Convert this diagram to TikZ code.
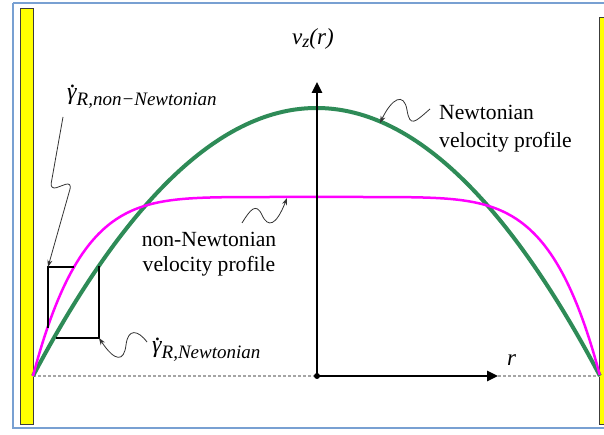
\documentclass[tikz,border=0pt]{standalone}
\usepackage{fontspec}
\setmainfont{LiberationSerif-Regular.ttf}[ItalicFont=LiberationSerif-Italic.ttf,BoldFont=LiberationSerif-Bold.ttf,BoldItalicFont=LiberationSerif-BoldItalic.ttf]
\usetikzlibrary{arrows.meta}
\definecolor{frameblue}{RGB}{120,160,210}
\definecolor{newtgreen}{RGB}{46,139,87}
\definecolor{nnmagenta}{RGB}{255,0,255}
\definecolor{wallyellow}{RGB}{255,255,0}
\definecolor{wallborder}{RGB}{60,60,60}
\definecolor{basegray}{RGB}{165,165,165}
\newcommand{\gdotted}{\makebox[0pt][l]{\kern0.12em\raisebox{0.5em}{.}}γ}
\tikzset{
  wall/.style={fill=wallyellow,draw=wallborder,line width=1pt},
  axis/.style={line width=2.5pt,-{Triangle[length=11pt,width=10pt]}},
  wiggle/.style={line width=0.8pt,draw=black!80,-{Stealth[length=7pt,width=5pt]}},
  boxline/.style={line width=2pt,black},
  lbl/.style={inner sep=0pt,anchor=base west,font=\fontsize{21.6}{26}\selectfont},
}
\begin{document}
\begin{tikzpicture}[x=1pt,y=-1pt]
\useasboundingbox (0,0) rectangle (604,435);
\fill[white] (0,0) rectangle (604,435);
% frame
\draw[frameblue,line width=1.5pt] (13,3) -- (612,3) (13,3) -- (13,428) -- (612,428);
% walls
\draw[wall] (20,9) rectangle (33,424);
\draw[wall] (599,18) rectangle (614,424);
% baseline
\draw[basegray,line width=1.2pt,dash pattern=on 3pt off 2pt] (33,376) -- (600,376);
% profiles
\draw[newtgreen,line width=4pt] plot[domain=-1:1,samples=121,smooth] ({316.5+283.5*\x},{376-268*(1-\x*\x)});
\draw[nnmagenta,line width=2.5pt] plot[domain=-1:1,samples=201,smooth] ({316.5+283.5*\x},{376-179*(1-\x*\x*\x*\x*\x*\x)});
% axes
\coordinate (O) at (317,376);
\coordinate (vtop) at (317,82);
\coordinate (rend) at (498,376);
\draw[axis] (O) -- (vtop);
\draw[axis] (O) -- (rend);
\fill (O) circle (3pt);
\node[lbl,font=\fontsize{23}{26}\selectfont\itshape] (vlab) at (292,45) {v\raisebox{-3pt}{\fontsize{18}{20}\selectfont z}(r)};
\node[lbl,font=\fontsize{23}{26}\selectfont\itshape] (rlab) at (507,365) {r};
% tangent boxes
\coordinate (boxTL) at (48,267);
\coordinate (boxBR) at (99,338);
\draw[boxline] (48,328) -- (boxTL) -- (74,267);
\draw[boxline] (56,338) -- (boxBR) -- (99,266);
% labels
\node[lbl] (nt1) at (439,120) {Newtonian};
\node[lbl] (nt2) at (439,148) {velocity profile};
\node[lbl,anchor=base] (nn1) at (209,247) {non-Newtonian};
\node[lbl,anchor=base] (nn2) at (209,272) {velocity profile};
\node[lbl] (g1) at (67,100) {{\fontsize{24}{26}\selectfont\itshape \gdotted}\raisebox{-6pt}{\fontsize{19}{22}\selectfont\itshape R,non−Newtonian}};
\node[lbl] (g2) at (152,352) {{\fontsize{24}{26}\selectfont\itshape \gdotted}\raisebox{-6pt}{\fontsize{19}{22}\selectfont\itshape R,Newtonian}};
% wiggly arrows
\coordinate (w1s) at (63,117);
\draw[wiggle,rounded corners=7pt] (w1s) -- (50,190) -- (72,182) -- (boxTL);
\coordinate (w2s) at (430,109);
\coordinate (w2e) at (380,123);
\draw[wiggle] (w2s) .. controls (415,122) and (410,128) .. (407,110) .. controls (404,92) and (392,98) .. (w2e);
\coordinate (w3s) at (242,223);
\coordinate (w3e) at (287,198);
\draw[wiggle] (w3s) .. controls (250,210) and (256,202) .. (262,215) .. controls (268,228) and (276,226) .. (w3e);
\coordinate (w4s) at (147,342);
\draw[wiggle] (w4s) .. controls (138,330) and (128,328) .. (126,345) .. controls (124,362) and (115,362) .. (boxBR);
\end{tikzpicture}
\end{document}
